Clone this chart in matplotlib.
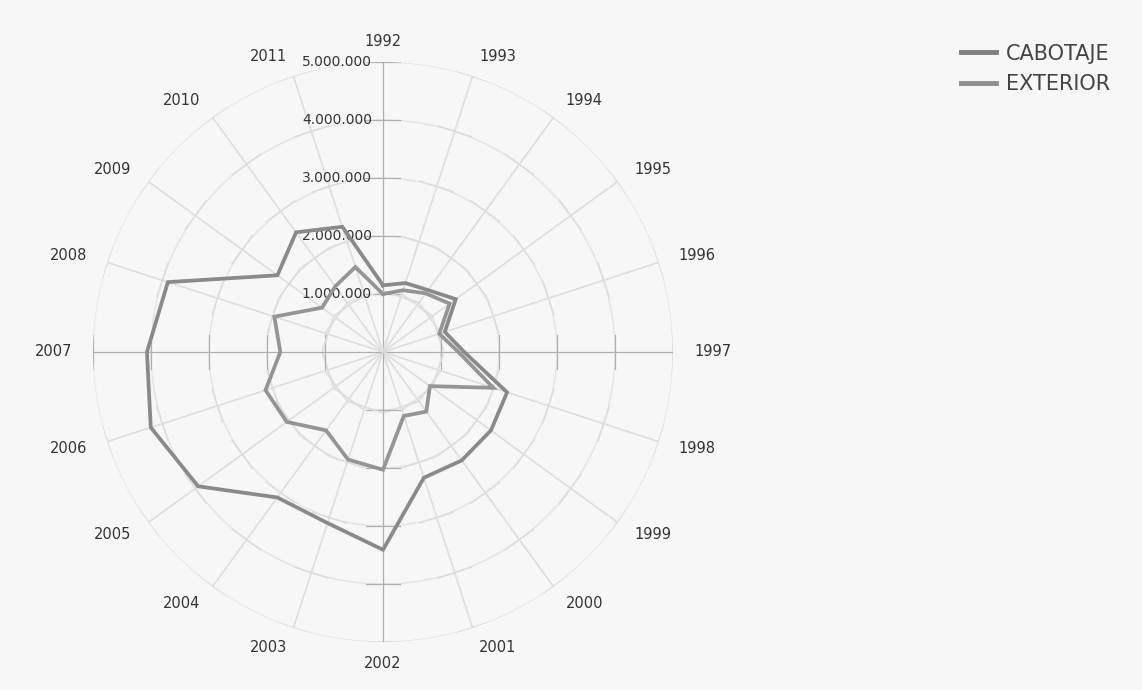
import numpy as np
import matplotlib
matplotlib.use("Agg")
import matplotlib.pyplot as plt
from matplotlib.lines import Line2D

# years on the radar spokes, clockwise from the top
years = [str(y) for y in range(1992, 2012)]

# values in tonnes
cabotaje = [1150000, 1250000, 1320000, 1550000, 1120000, 1400000, 2250000, 2300000,
            2310000, 2280000, 3410000, 3100000, 3100000, 3940000, 4210000, 4070000,
            3900000, 2250000, 2550000, 2270000]
exterior = [1000000, 1120000, 1250000, 1420000, 1020000, 1300000, 2000000, 1000000,
            1270000, 1160000, 2030000, 1950000, 1670000, 2050000, 2130000, 1770000,
            1970000, 1300000, 1400000, 1540000]

ring_values = [1000000, 2000000, 3000000, 4000000, 5000000]
ring_labels = ["1.000.000", "2.000.000", "3.000.000", "4.000.000", "5.000.000"]

RMAX = 5000000
W, H = 1142, 690
cx, cy, rad = 383, 352, 290  # centre and radius in pixels

fig = plt.figure(figsize=(W / 100, H / 100), dpi=100, facecolor="#f7f7f7")
ax = fig.add_axes([(cx - rad) / W, (H - cy - rad) / H, 2 * rad / W, 2 * rad / H],
                  projection="polar")
ax.set_facecolor("none")
ax.set_theta_zero_location("N")
ax.set_theta_direction(-1)
ax.set_ylim(0, RMAX)
ax.grid(False)
ax.set_xticks([])
ax.set_yticks([])
ax.spines["polar"].set_visible(False)

n = len(years)
angles = np.arange(n) * 2 * np.pi / n

# rings
th = np.linspace(0, 2 * np.pi, 361)
for rv in ring_values:
    ax.plot(th, np.full_like(th, rv), color="#e4e4e4", lw=1.0, zorder=1)

# spokes with small perpendicular ticks at every million
tick_half = 0.3e6
for i, a in enumerate(angles):
    cardinal = i % 5 == 0
    col = "#b0b0b0" if cardinal else "#dedede"
    lw = 0.9 if cardinal else 1.2
    ax.plot([a, a], [0, RMAX], color=col, lw=lw, zorder=2)
    for rv in ring_values:
        r2 = np.hypot(rv, tick_half)
        d = np.arctan2(tick_half, rv)
        ax.plot([a - d, a + d], [r2, r2], color=col, lw=lw, zorder=2)

# data
def closed(v):
    return np.append(angles, angles[0]), np.append(v, v[0])

ta, ra = closed(exterior)
ax.plot(ta, ra, color="#959595", lw=2.7, zorder=4, solid_joinstyle="miter")
ta, ra = closed(cabotaje)
ax.plot(ta, ra, color="#8a8a8a", lw=2.7, zorder=5, solid_joinstyle="miter")

# category labels, anchored just outside the spoke ends
lab_r = 311 / rad * RMAX
for a, lab in zip(angles, years):
    s = np.sin(a)
    ha = "left" if s > 0.01 else ("right" if s < -0.01 else "center")
    ax.text(a, lab_r, lab, ha=ha, va="center",
            fontsize=10.5, color="#333333", clip_on=False)

# ring value labels on the top spoke
for rv, lab in zip(ring_values, ring_labels):
    ax.annotate(lab, xy=(0, rv), xytext=(-8, 0), textcoords="offset points",
                ha="right", va="center", fontsize=10, color="#333333",
                annotation_clip=False)

handles = [Line2D([], [], color="#7f7f7f", lw=3.5),
           Line2D([], [], color="#8f8f8f", lw=3.5)]
fig.legend(handles, ["CABOTAJE", "EXTERIOR"], loc="upper left",
           bbox_to_anchor=(942 / W, 1 - 25 / H), frameon=False,
           fontsize=15, handlelength=1.7, handletextpad=0.45,
           labelspacing=0.5, labelcolor="#444444")

fig.savefig("out.png", dpi=100, facecolor=fig.get_facecolor())
